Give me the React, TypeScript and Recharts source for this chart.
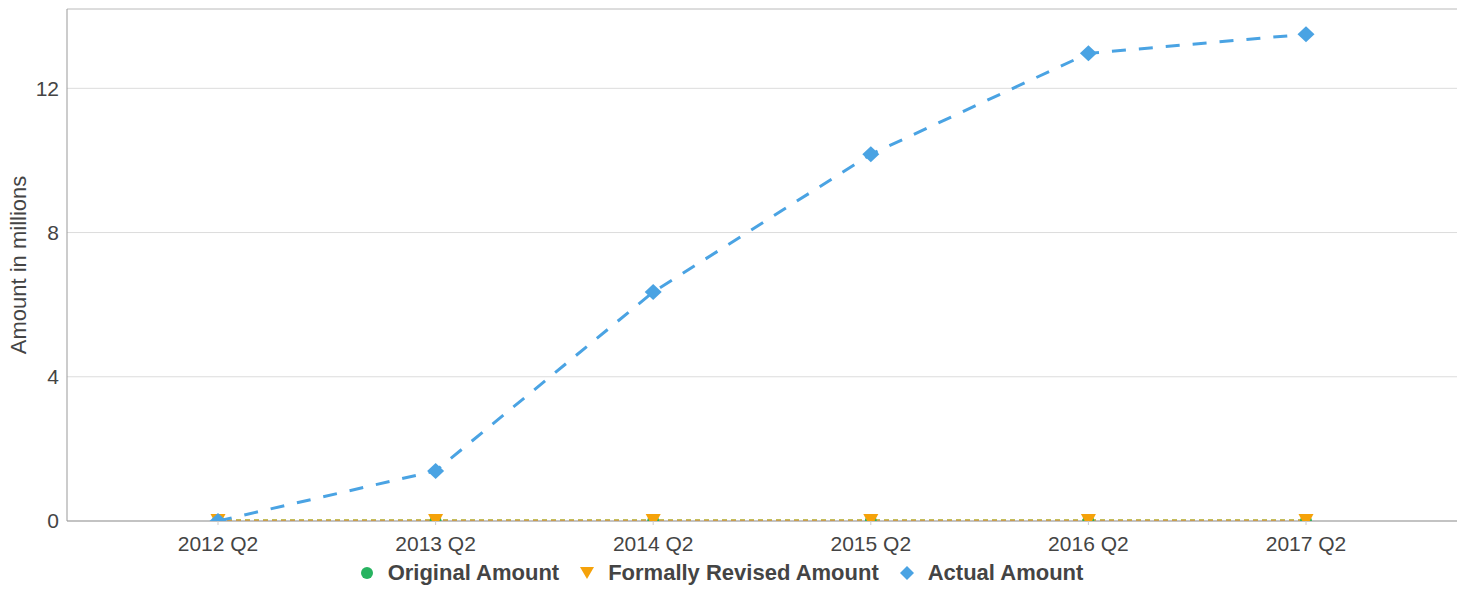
import {
  CartesianGrid,
  Legend,
  Line,
  LineChart,
  ReferenceLine,
  XAxis,
  YAxis,
} from 'recharts';

const quarters = ['2012 Q2', '2013 Q2', '2014 Q2', '2015 Q2', '2016 Q2', '2017 Q2'];
const originalAmount = [0, 0, 0, 0, 0, 0];
const revisedAmount = [0, 0, 0, 0, 0, 0];
const actualAmount = [0, 1.39, 6.35, 10.17, 12.97, 13.5];
const yTicks = [0, 4, 8, 12];
const Y_MAX = 14.2;

const GREEN = '#27b360';
const ORANGE = '#f5a20a';
const BLUE = '#4aa3e3';
const TEXT = '#444';
const FONT = 'Arial, "Liberation Sans", sans-serif';

const data = quarters.map((q, i) => ({
  quarter: q,
  original: originalAmount[i],
  revised: revisedAmount[i],
  actual: actualAmount[i],
}));

const legendItems = [
  { key: 'original', label: 'Original Amount', color: GREEN, shape: 'circle' },
  { key: 'revised', label: 'Formally Revised Amount', color: ORANGE, shape: 'triangle' },
  { key: 'actual', label: 'Actual Amount', color: BLUE, shape: 'diamond' },
];

function Marker({ shape, color }: { shape: string; color: string }) {
  return (
    <svg width={16} height={16} style={{ marginRight: 13 }}>
      {shape === 'circle' && <circle cx={8} cy={8} r={6} fill={color} />}
      {shape === 'triangle' && <polygon points="1,2 15,2 8,14" fill={color} />}
      {shape === 'diamond' && <polygon points="8,1 15,8 8,15 1,8" fill={color} />}
    </svg>
  );
}

function LegendContent() {
  return (
    <div
      style={{
        display: 'flex',
        justifyContent: 'center',
        alignItems: 'center',
        height: 34,
        paddingRight: 32,
        fontFamily: FONT,
        fontWeight: 'bold',
        fontSize: 22,
        color: TEXT,
      }}
    >
      {legendItems.map((it) => (
        <div key={it.key} style={{ display: 'flex', alignItems: 'center', margin: '0 10px' }}>
          <Marker shape={it.shape} color={it.color} />
          <span>{it.label}</span>
        </div>
      ))}
    </div>
  );
}

// markers sit on the zero line, so the plot clip cuts them in half there
function TriangleDot({ cx, cy }: { cx?: number; cy?: number }) {
  if (cx == null || cy == null) return null;
  return (
    <polygon
      points={`${cx - 7.5},${cy - 7} ${cx + 7.5},${cy - 7} ${cx},${cy + 7}`}
      fill={ORANGE}
    />
  );
}

function DiamondDot({ cx, cy }: { cx?: number; cy?: number }) {
  if (cx == null || cy == null) return null;
  return (
    <polygon
      points={`${cx},${cy - 8} ${cx + 8.5},${cy} ${cx},${cy + 8} ${cx - 8.5},${cy}`}
      fill={BLUE}
    />
  );
}

function YLabel({ viewBox }: { viewBox?: { x: number; y: number; height: number } }) {
  if (!viewBox) return null;
  const cy = viewBox.y + viewBox.height / 2;
  return (
    <text
      x={18}
      y={cy}
      transform={`rotate(-90, 18, ${cy})`}
      textAnchor="middle"
      dominantBaseline="central"
      fill={TEXT}
      fontSize={22}
      fontFamily={FONT}
    >
      Amount in millions
    </text>
  );
}

export default function App() {
  return (
    <div style={{ position: 'absolute', left: 0, top: 0, background: '#fff' }}>
      <LineChart
        width={1464}
        height={590}
        data={data}
        margin={{ top: 9, right: 7, left: 17, bottom: 0 }}
      >
        <CartesianGrid vertical={false} stroke="#dcdcdc" />
        <XAxis
          dataKey="quarter"
          padding={{ left: 151, right: 151 }}
          stroke="#999"
          tickLine={{ stroke: '#ccc' }}
          tickSize={4}
          tickMargin={11}
          height={35}
          interval={0}
          tick={{ fill: TEXT, fontSize: 21, fontFamily: FONT }}
        />
        <YAxis
          domain={[0, Y_MAX]}
          ticks={yTicks}
          allowDataOverflow
          width={50}
          stroke="#999"
          tickLine={false}
          tick={{ fill: TEXT, fontSize: 21, fontFamily: FONT }}
          label={<YLabel />}
        />
        <YAxis
          yAxisId="frame"
          orientation="right"
          width={0}
          tick={false}
          tickLine={false}
          stroke="#bbb"
        />
        <ReferenceLine y={Y_MAX} stroke="#ccc" />
        <Legend verticalAlign="bottom" height={34} content={<LegendContent />} />
        <Line
          type="linear"
          dataKey="original"
          stroke={GREEN}
          strokeWidth={3}
          strokeDasharray="5 4"
          dot={{ r: 6, fill: GREEN, stroke: 'none' }}
          activeDot={false}
          isAnimationActive={false}
        />
        <Line
          type="linear"
          dataKey="revised"
          stroke={ORANGE}
          strokeWidth={3}
          strokeDasharray="5 4"
          dot={<TriangleDot />}
          activeDot={false}
          isAnimationActive={false}
        />
        <Line
          type="linear"
          dataKey="actual"
          stroke={BLUE}
          strokeWidth={3}
          strokeDasharray="14 13"
          dot={<DiamondDot />}
          activeDot={false}
          isAnimationActive={false}
        />
      </LineChart>
    </div>
  );
}
